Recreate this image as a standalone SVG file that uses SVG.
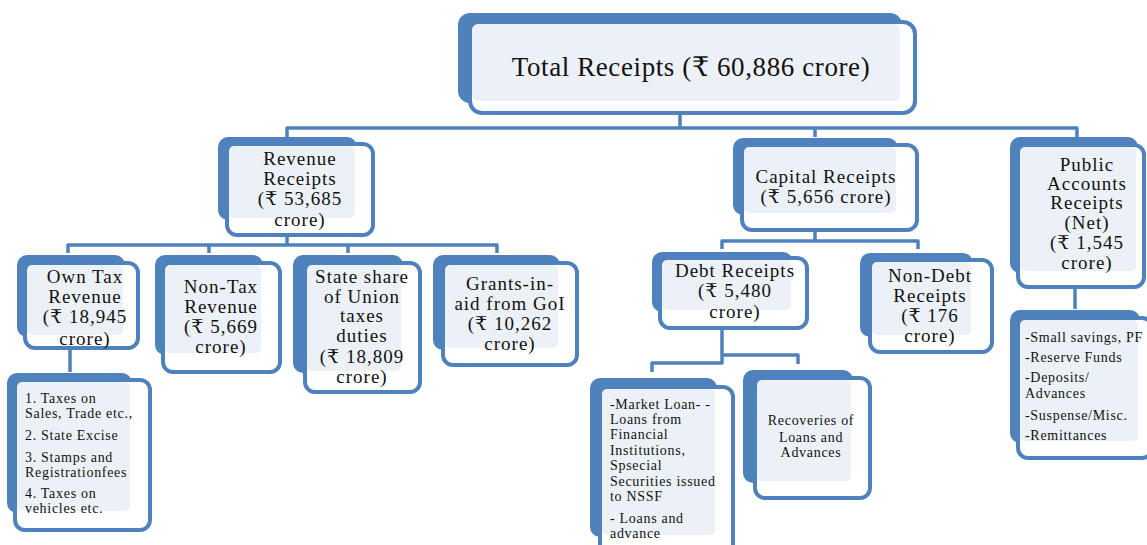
<svg xmlns="http://www.w3.org/2000/svg" width="1147" height="545" viewBox="0 0 1147 545">
<style>
.bk{fill:#4F81BD}
.fr{fill:#FFFFFF;stroke:#4F81BD;stroke-width:4}
.lt{fill:#ECF1F8}
.c{fill:none;stroke:#4F81BD;stroke-width:3.5;stroke-linejoin:round}
text{font-family:"Liberation Serif","DejaVu Serif",serif;fill:#111}
.big{font-size:27px;text-anchor:middle;letter-spacing:0.6px}
.t{font-size:19px;text-anchor:middle;letter-spacing:1px}
.s{font-size:14px;letter-spacing:0.7px}
</style>
<rect width="1147" height="545" fill="#FFFFFF"/>
<g id="connectors">
<path class="c" d="M680,113 V128"/>
<path class="c" d="M287,137 V128 H1077 V137"/>
<path class="c" d="M815,128 V137"/>
<path class="c" d="M287,235 V245"/>
<path class="c" d="M68,253 V245 H497 V253"/>
<path class="c" d="M209,245 V253"/>
<path class="c" d="M348,245 V253"/>
<path class="c" d="M70,348 V372"/>
<path class="c" d="M815,230 V241"/>
<path class="c" d="M722,249 V241 H918 V249"/>
<path class="c" d="M722,328 V363 H652 V372"/>
<path class="c" d="M722,355 H798 V364"/>
<path class="c" d="M1075,287 V309"/>
</g>
<g id="total">
<rect class="bk" x="458" y="13" width="444" height="90" rx="12"/>
<rect class="fr" x="470" y="22" width="445" height="91" rx="12"/>
<rect class="lt" x="472" y="24" width="428" height="77" rx="6"/>
<text class="big" x="691" y="76">Total Receipts (₹ 60,886 crore)</text>
</g>
<g id="revenue">
<rect class="bk" x="218" y="137" width="139" height="83" rx="10"/>
<rect class="fr" x="227" y="144" width="146" height="91" rx="10"/>
<rect class="lt" x="229" y="146" width="126" height="72" rx="5"/>
<text class="t" x="300" y="165">Revenue</text>
<text class="t" x="300" y="185">Receipts</text>
<text class="t" x="300" y="205">(₹ 53,685</text>
<text class="t" x="300" y="226">crore)</text>
</g>
<g id="owntax">
<rect class="bk" x="17" y="255" width="108" height="82" rx="10"/>
<rect class="fr" x="25" y="263" width="113" height="85" rx="10"/>
<rect class="lt" x="27" y="265" width="96" height="70" rx="5"/>
<text class="t" x="85" y="283">Own Tax</text>
<text class="t" x="85" y="303">Revenue</text>
<text class="t" x="85" y="323">(₹ 18,945</text>
<text class="t" x="85" y="345">crore)</text>
</g>
<g id="nontax">
<rect class="bk" x="155" y="255" width="108" height="100" rx="10"/>
<rect class="fr" x="163" y="263" width="117" height="109" rx="10"/>
<rect class="lt" x="165" y="265" width="96" height="88" rx="5"/>
<text class="t" x="221" y="293">Non-Tax</text>
<text class="t" x="221" y="313">Revenue</text>
<text class="t" x="221" y="333">(₹ 5,669</text>
<text class="t" x="221" y="353">crore)</text>
</g>
<g id="stateshare">
<rect class="bk" x="293" y="255" width="110" height="118" rx="10"/>
<rect class="fr" x="305" y="263" width="115" height="129" rx="10"/>
<rect class="lt" x="307" y="265" width="94" height="106" rx="5"/>
<text class="t" x="362" y="283">State share</text>
<text class="t" x="362" y="303">of Union</text>
<text class="t" x="362" y="322">taxes</text>
<text class="t" x="362" y="342">duties</text>
<text class="t" x="362" y="363">(₹ 18,809</text>
<text class="t" x="362" y="383">crore)</text>
</g>
<g id="grants">
<rect class="bk" x="433" y="255" width="127" height="95" rx="10"/>
<rect class="fr" x="443" y="263" width="134" height="102" rx="10"/>
<rect class="lt" x="445" y="265" width="113" height="83" rx="5"/>
<text class="t" x="510" y="290">Grants-in-</text>
<text class="t" x="510" y="310">aid from GoI</text>
<text class="t" x="510" y="330">(₹ 10,262</text>
<text class="t" x="510" y="350">crore)</text>
</g>
<g id="ownlist">
<rect class="bk" x="7" y="373" width="125" height="140" rx="10"/>
<rect class="fr" x="15" y="380" width="135" height="150" rx="10"/>
<rect class="lt" x="17" y="382" width="113" height="129" rx="5"/>
<text class="s" x="25" y="403">1. Taxes on</text>
<text class="s" x="25" y="418">Sales, Trade etc.,</text>
<text class="s" x="25" y="440">2. State Excise</text>
<text class="s" x="25" y="462">3. Stamps and</text>
<text class="s" x="25" y="477">Registrationfees</text>
<text class="s" x="25" y="498">4. Taxes on</text>
<text class="s" x="25" y="513">vehicles etc.</text>
</g>
<g id="capital">
<rect class="bk" x="733" y="138" width="165" height="77" rx="10"/>
<rect class="fr" x="742" y="145" width="175" height="85" rx="10"/>
<rect class="lt" x="744" y="147" width="152" height="66" rx="5"/>
<text class="t" x="826" y="183">Capital Receipts</text>
<text class="t" x="826" y="203">(₹  5,656 crore)</text>
</g>
<g id="public">
<rect class="bk" x="1010" y="137" width="128" height="136" rx="10"/>
<rect class="fr" x="1018" y="145" width="126" height="142" rx="10"/>
<rect class="lt" x="1020" y="147" width="116" height="124" rx="5"/>
<text class="t" x="1087" y="171">Public</text>
<text class="t" x="1087" y="190">Accounts</text>
<text class="t" x="1087" y="209">Receipts</text>
<text class="t" x="1087" y="229">(Net)</text>
<text class="t" x="1087" y="249">(₹ 1,545</text>
<text class="t" x="1087" y="269">crore)</text>
</g>
<g id="debt">
<rect class="bk" x="652" y="252" width="141" height="60" rx="10"/>
<rect class="fr" x="660" y="258" width="147" height="70" rx="10"/>
<rect class="lt" x="662" y="260" width="129" height="50" rx="5"/>
<text class="t" x="735" y="277">Debt Receipts</text>
<text class="t" x="735" y="297">(₹ 5,480</text>
<text class="t" x="735" y="318">crore)</text>
</g>
<g id="nondebt">
<rect class="bk" x="860" y="253" width="113" height="84" rx="10"/>
<rect class="fr" x="870" y="260" width="122" height="92" rx="10"/>
<rect class="lt" x="872" y="262" width="99" height="73" rx="5"/>
<text class="t" x="930" y="282">Non-Debt</text>
<text class="t" x="930" y="302">Receipts</text>
<text class="t" x="930" y="322">(₹ 176</text>
<text class="t" x="930" y="342">crore)</text>
</g>
<g id="marketloan">
<rect class="bk" x="590" y="378" width="127" height="159" rx="10"/>
<rect class="fr" x="600" y="387" width="133" height="168" rx="10"/>
<rect class="lt" x="602" y="389" width="113" height="146" rx="5"/>
<text class="s" x="610" y="409">-Market Loan- -</text>
<text class="s" x="610" y="424">Loans from</text>
<text class="s" x="610" y="439">Financial</text>
<text class="s" x="610" y="455">Institutions,</text>
<text class="s" x="610" y="470">Spsecial</text>
<text class="s" x="610" y="486">Securities issued</text>
<text class="s" x="610" y="501">to NSSF</text>
<text class="s" x="610" y="523">- Loans and</text>
<text class="s" x="610" y="538">advance</text>
</g>
<g id="recoveries">
<rect class="bk" x="743" y="370" width="110" height="113" rx="10"/>
<rect class="fr" x="755" y="378" width="115" height="120" rx="10"/>
<rect class="lt" x="757" y="380" width="94" height="101" rx="5"/>
<text class="s" x="811" y="425" text-anchor="middle">Recoveries of</text>
<text class="s" x="811" y="442" text-anchor="middle">Loans and</text>
<text class="s" x="811" y="457" text-anchor="middle">Advances</text>
</g>
<g id="publist">
<rect class="bk" x="1010" y="310" width="130" height="133" rx="10"/>
<rect class="fr" x="1018" y="318" width="134" height="140" rx="10"/>
<rect class="lt" x="1020" y="320" width="118" height="121" rx="5"/>
<text class="s" x="1025" y="342">-Small savings, PF</text>
<text class="s" x="1025" y="362">-Reserve Funds</text>
<text class="s" x="1025" y="382">-Deposits/</text>
<text class="s" x="1025" y="398">Advances</text>
<text class="s" x="1025" y="420">-Suspense/Misc.</text>
<text class="s" x="1025" y="440">-Remittances</text>
</g>
</svg>
